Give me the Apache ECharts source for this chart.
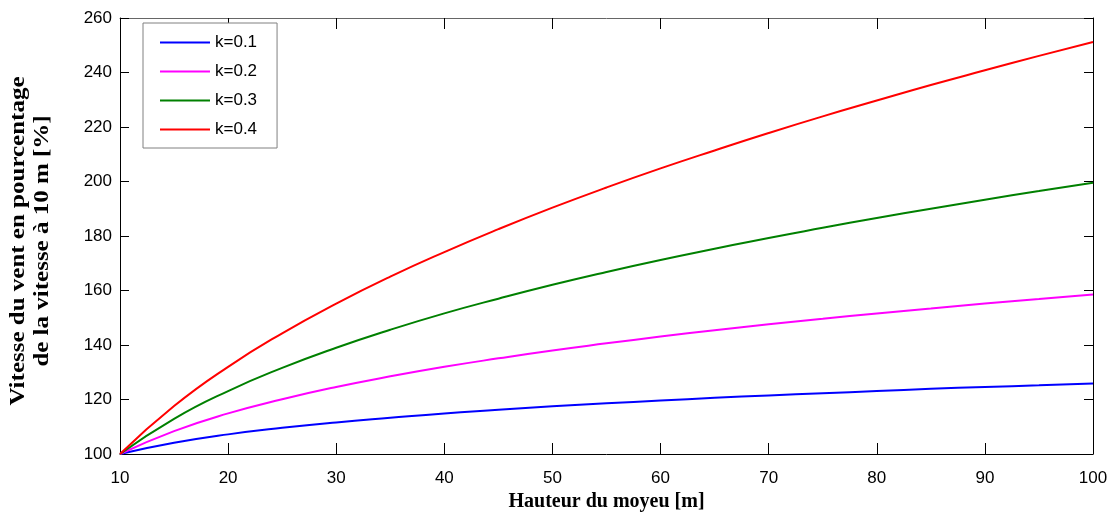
<!DOCTYPE html>
<html>
<head>
<meta charset="utf-8">
<script src="https://cdn.jsdelivr.net/npm/echarts@6/dist/echarts.min.js"></script>
<style>
  html, body { margin: 0; padding: 0; background: #fff; }
  #chart { width: 1110px; height: 515px; }
</style>
</head>
<body>
<div id="chart"></div>
<script>
// hub height [m]
const heights = [10, 15, 20, 25, 30, 35, 40, 45, 50, 55, 60, 65, 70, 75, 80, 85, 90, 95, 100];

// wind speed as % of the speed at 10 m
const k01 = [100, 104.1, 107.2, 109.6, 111.6, 113.3, 114.9, 116.2, 117.5, 118.6, 119.6, 120.6, 121.5, 122.3, 123.1, 123.9, 124.6, 125.2, 125.9];
const k02 = [100, 108.4, 114.9, 120.1, 124.6, 128.5, 132.0, 135.1, 138.0, 140.6, 143.1, 145.4, 147.6, 149.6, 151.6, 153.4, 155.2, 156.9, 158.5];
const k03 = [100, 112.9, 123.1, 131.6, 139.0, 145.6, 151.6, 157.0, 162.1, 166.8, 171.2, 175.3, 179.3, 183.0, 186.6, 190.0, 193.3, 196.5, 199.5];
const k04 = [100, 117.6, 132.0, 144.3, 155.2, 165.1, 174.1, 182.5, 190.4, 197.8, 204.8, 211.4, 217.8, 223.9, 229.7, 235.4, 240.8, 246.1, 251.2];

const seriesNames = ['k=0.1', 'k=0.2', 'k=0.3', 'k=0.4'];
const seriesValues = [k01, k02, k03, k04];
const colors = ['#0000ff', '#ff00ff', '#008000', '#ff0000'];

const xTitle = 'Hauteur du moyeu [m]';
const yTitle = 'Vitesse du vent en pourcentage\nde la vitesse à 10 m [%]';

const chart = echarts.init(document.getElementById('chart'));

const labelFont = { fontFamily: 'Liberation Sans, Arial, sans-serif', fontSize: 17, color: '#000' };
const titleFont = { fontFamily: 'Liberation Serif, Times New Roman, serif', fontWeight: 'bold', fontSize: 20, color: '#000' };

const xBase = {
  type: 'value', min: 10, max: 100, interval: 10,
  splitLine: { show: false },
  axisTick: { inside: true, length: 11, lineStyle: { color: '#000', width: 1 } },
  axisLine: { onZero: false, lineStyle: { color: '#000', width: 1 } }
};
const yBase = {
  type: 'value', min: 100, max: 260, interval: 20,
  splitLine: { show: false },
  axisTick: { inside: true, length: 9, lineStyle: { color: '#000', width: 1 } },
  axisLine: { onZero: false, lineStyle: { color: '#000', width: 1 } }
};

const option = {
  backgroundColor: '#fff',
  animation: false,
  grid: { left: 120, right: 17, top: 18, bottom: 61, outerBoundsMode: 'none' },
  legend: {
    orient: 'vertical',
    left: 143, top: 23,
    padding: [11, 20, 10, 17],
    itemWidth: 50, itemHeight: 14, itemGap: 12,
    icon: 'path://M0,0 L50,0 L50,2 L0,2 Z',
    borderColor: '#808080', borderWidth: 1,
    backgroundColor: '#fff',
    textStyle: { fontFamily: 'Liberation Sans, Arial, sans-serif', fontSize: 17, color: '#000' },
    data: seriesNames
  },
  // y title drawn as text so it can be stretched along its length like the original
  graphic: [{
    type: 'text',
    x: 31, y: 241,
    rotation: Math.PI / 2,
    scaleX: 1.19,
    style: {
      text: yTitle,
      font: 'bold 21px "Liberation Serif", "Times New Roman", serif',
      lineHeight: 24,
      fill: '#000',
      align: 'center',
      verticalAlign: 'middle'
    }
  }],
  xAxis: [
    Object.assign({}, xBase, {
      position: 'bottom',
      name: xTitle,
      nameLocation: 'middle', nameGap: 38,
      nameTextStyle: titleFont,
      axisLabel: Object.assign({ margin: 16 }, labelFont)
    }),
    Object.assign({}, xBase, {
      position: 'top',
      axisLabel: { show: false },
      axisLine: { onZero: false, lineStyle: { color: '#666', width: 1 } }
    })
  ],
  yAxis: [
    Object.assign({}, yBase, {
      position: 'left',
      axisLabel: Object.assign({ margin: 8 }, labelFont)
    }),
    Object.assign({}, yBase, {
      position: 'right',
      axisLabel: { show: false }
    })
  ],
  series: seriesValues.map((vals, i) => ({
    name: seriesNames[i],
    type: 'line',
    smooth: true,
    symbol: 'none',
    color: colors[i],
    lineStyle: { color: colors[i], width: 2 },
    data: heights.map((h, j) => [h, vals[j]])
  }))
};

chart.setOption(option);
</script>
</body>
</html>
